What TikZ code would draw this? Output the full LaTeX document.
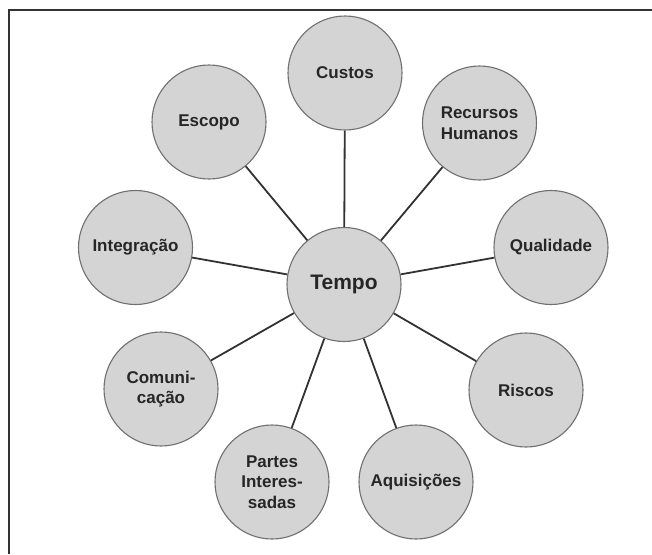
\documentclass[tikz,border=0pt]{standalone}
\usepackage{fontspec}
\setmainfont{Liberation Sans}
\definecolor{areafill}{RGB}{212,212,212}
\definecolor{areaedge}{RGB}{112,112,112}
\definecolor{linkcol}{RGB}{50,50,50}

\begin{document}
\begin{tikzpicture}[x=1pt,y=-1pt,
  area/.style={circle,minimum size=114pt,inner sep=0pt,fill=areafill,draw=areaedge,line width=1.1pt,align=center,text=black!85,font=\bfseries\fontsize{17}{20.5}\selectfont},
  link/.style={draw=linkcol,line width=1.8pt}]
\useasboundingbox (0,0) rectangle (652,554);
\draw[line width=1.6pt,black!80] (9,554) -- (9,10) -- (652,10);
\draw node[area,font=\bfseries\fontsize{21}{25}\selectfont] (tempo) at (344,284.5) {Tempo};
\draw node[area] (cust) at (345,73) {Custos};
\draw node[area] (esc) at (209,122) {Escopo};
\draw node[area] (rh) at (479.5,123) {Recursos\\Humanos};
\draw node[area] (int) at (135.5,247.5) {Integração};
\draw node[area] (qual) at (551,247.5) {Qualidade};
\draw node[area] (com) at (161,389) {Comuni-\\cação};
\draw node[area] (ris) at (526,390) {Riscos};
\draw node[area] (pi) at (272,482) {Partes\\Interes-\\sadas};
\draw node[area] (aq) at (416,482) {Aquisições};
\draw[link] (tempo) -- (cust);
\draw[link] (tempo) -- (esc);
\draw[link] (tempo) -- (rh);
\draw[link] (tempo) -- (int);
\draw[link] (tempo) -- (qual);
\draw[link] (tempo) -- (com);
\draw[link] (tempo) -- (ris);
\draw[link] (tempo) -- (pi);
\draw[link] (tempo) -- (aq);
\end{tikzpicture}
\end{document}
